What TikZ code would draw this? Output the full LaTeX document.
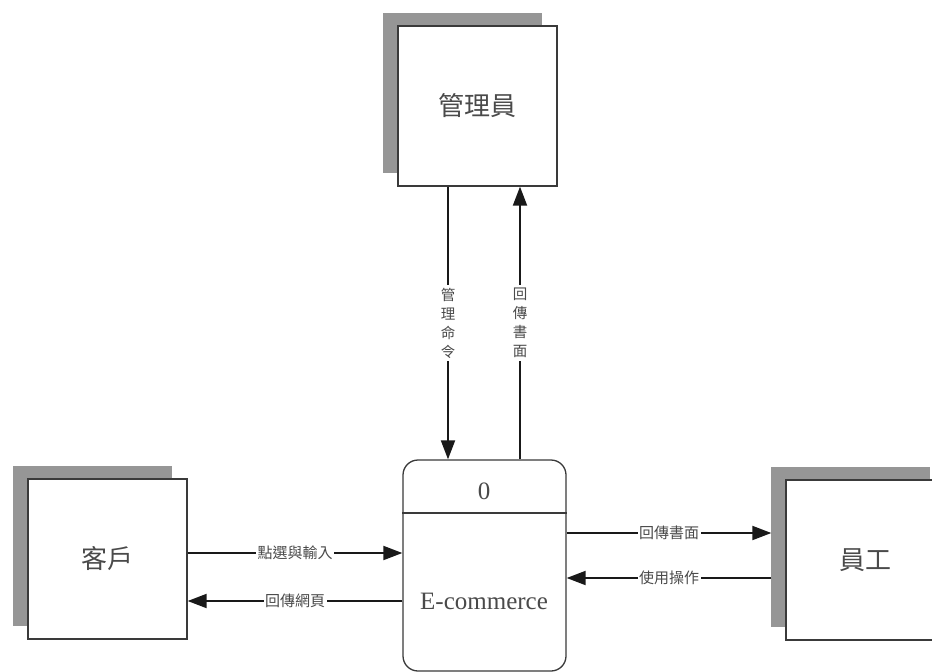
\documentclass[tikz,border=0pt]{standalone}
\usepackage{fontspec}
\setmainfont{Liberation Serif}
\newfontfamily\cjk{Noto Sans CJK TC}
\usetikzlibrary{arrows.meta,shadows}
\definecolor{linecol}{HTML}{3A3A3A}
\definecolor{shadowcol}{HTML}{969696}
\definecolor{textcol}{HTML}{4A4A4A}
\begin{document}
\begin{tikzpicture}[x=1pt,y=-1pt,
  entity/.style={draw=linecol, fill=white, line width=1.3pt, minimum width=159pt, minimum height=160pt, inner sep=0pt,
    text=textcol, font=\cjk\fontsize{26}{26}\selectfont,
    drop shadow={shadow xshift=-15pt, shadow yshift=13pt, fill=shadowcol, opacity=1, draw=none}},
  procbox/.style={draw=linecol, fill=white, line width=1.3pt, minimum width=163pt, minimum height=211pt, rounded corners=15pt, inner sep=0pt},
  flow/.style={draw=black!90, line width=1.9pt, -{Triangle[length=19pt,width=14pt]}},
  lbl/.style={fill=white, inner sep=1.5pt, text=textcol, font=\cjk\fontsize{15}{15}\selectfont},
  vlbl/.style={fill=white, inner xsep=1pt, inner ysep=3pt, text=textcol, align=center, font=\cjk\fontsize{14.5}{19}\selectfont},
  ptext/.style={text=textcol, font=\fontsize{25}{25}\selectfont, inner sep=0pt}]
\useasboundingbox (0,0) rectangle (932,672);
\clip (0,0) rectangle (932,672);
\node[entity] (admin) at (477.5,106) {管理員};
\node[entity] (cust) at (107.5,559) {客戶};
\node[entity] (emp) at (865.5,560) {員工};
\node[procbox] (proc) at (484.5,565.5) {};
\draw[draw=linecol, line width=1.3pt] (proc.west |- 0,513) -- (proc.east |- 0,513);
\node[ptext] (pnum) at (484,491) {0};
\node[ptext] (pname) at (484,601) {E-commerce};
\coordinate (adm1) at ([xshift=-29.5pt]admin.south);
\coordinate (adm2) at ([xshift=42.5pt]admin.south);
\coordinate (empedge) at ([xshift=-14pt]emp.west);
\draw[flow] (adm1) -- (adm1 |- proc.north) node[vlbl, midway] {管\\理\\命\\令};
\draw[flow] (adm2 |- proc.north) -- (adm2) node[vlbl, midway] {回\\傳\\書\\面};
\draw[flow] (cust.east |- 0,553) -- (proc.west |- 0,553) node[lbl, midway] {點選與輸入};
\draw[flow] (proc.west |- 0,601) -- (cust.east |- 0,601) node[lbl, midway] {回傳網頁};
\draw[flow] (proc.east |- 0,533) -- (empedge |- 0,533) node[lbl, midway] {回傳書面};
\draw[flow] (empedge |- 0,578) -- (proc.east |- 0,578) node[lbl, midway] {使用操作};
\end{tikzpicture}
\end{document}
